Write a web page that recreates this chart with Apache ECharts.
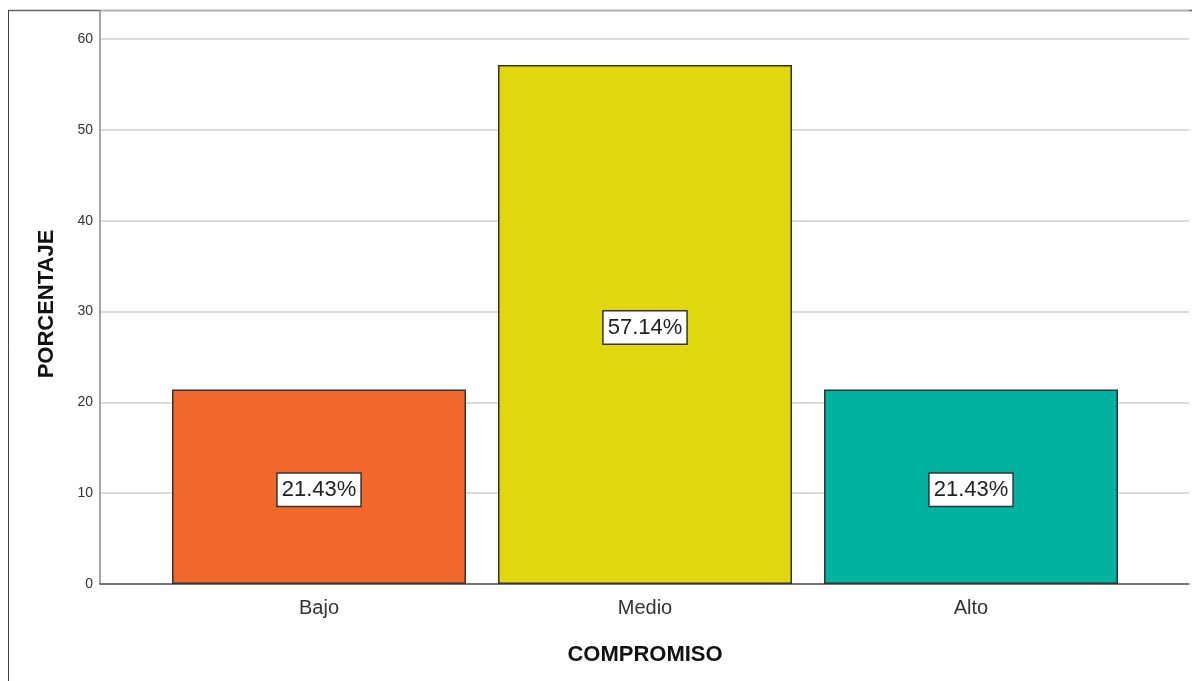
<!DOCTYPE html>
<html>
<head>
<meta charset="utf-8">
<script src="https://cdn.jsdelivr.net/npm/echarts@6/dist/echarts.min.js"></script>
<style>
  html, body { margin: 0; padding: 0; background: #fff; }
  #chart { width: 1192px; height: 681px; }
</style>
</head>
<body>
<div id="chart"></div>
<script>
// Distribution of COMPROMISO levels, as percentages
const categories = ['Bajo', 'Medio', 'Alto'];
const percentages = [21.43, 57.14, 21.43];
const barColors = ['#F2672A', '#E1D60F', '#00B3A0'];
const yTicks = [0, 10, 20, 30, 40, 50, 60];

const FONT = '"Liberation Sans", Arial, sans-serif';
const Y_MAX = 63.1;

const chart = echarts.init(document.getElementById('chart'), null, { renderer: 'canvas' });

const option = {
  animation: false,
  backgroundColor: '#ffffff',
  grid: [
    // frame grid: value axis, gridlines and baseline across the full width
    { left: 100, right: 3, top: 11, bottom: 97 },
    // bar grid: three equal bands centred under the frame
    { left: 156, right: 58, top: 11, bottom: 97 }
  ],
  xAxis: [
    {
      gridIndex: 0, type: 'category', data: [''],
      axisLine: { show: true, lineStyle: { color: '#555', width: 1.5 } },
      axisTick: { show: false }, axisLabel: { show: false }, splitLine: { show: false }
    },
    {
      gridIndex: 1, type: 'category', data: categories,
      axisLine: { show: false }, axisTick: { show: false },
      axisLabel: { fontFamily: FONT, fontSize: 20, color: '#333', margin: 14 }
    }
  ],
  yAxis: [
    {
      gridIndex: 0, type: 'value', min: yTicks[0], max: Y_MAX, interval: 10,
      axisLine: { show: true, lineStyle: { color: '#888', width: 1.5 } },
      axisTick: { show: false },
      axisLabel: {
        fontFamily: FONT, fontSize: 14, color: '#333', margin: 7,
        showMaxLabel: false,
        formatter: v => (yTicks.indexOf(v) >= 0 ? String(v) : '')
      },
      splitLine: { show: true, lineStyle: { color: '#cfcfcf', width: 1.5 } }
    },
    {
      gridIndex: 1, type: 'value', min: yTicks[0], max: Y_MAX, interval: 10,
      show: false
    }
  ],
  series: [
    {
      type: 'bar',
      xAxisIndex: 1, yAxisIndex: 1,
      barWidth: 294,
      data: percentages.map((v, i) => ({
        value: v,
        itemStyle: { color: barColors[i] }
      })),
      itemStyle: { borderColor: '#333', borderWidth: 1.5 },
      label: {
        show: true, position: 'inside', offset: [0, 3],
        formatter: p => p.value.toFixed(2) + '%',
        fontFamily: FONT, fontSize: 22, color: '#222',
        backgroundColor: '#fff', borderColor: '#333', borderWidth: 1.5,
        padding: [6, 4, 4, 4]
      }
    }
  ],
  graphic: [
    // outer frame: top and left edges
    { type: 'line', shape: { x1: 8, y1: 10.5, x2: 1192, y2: 10.5 }, style: { stroke: '#666', lineWidth: 1.5 } },
    { type: 'line', shape: { x1: 8.5, y1: 10, x2: 8.5, y2: 681 }, style: { stroke: '#444', lineWidth: 1 } },
    // axis titles
    {
      type: 'text', x: 645, y: 655,
      style: { text: 'COMPROMISO', font: 'bold 22px ' + FONT, fill: '#111', textAlign: 'center', textVerticalAlign: 'middle' }
    },
    {
      type: 'text', x: 47, y: 304, rotation: Math.PI / 2,
      style: { text: 'PORCENTAJE', font: 'bold 22px ' + FONT, fill: '#111', textAlign: 'center', textVerticalAlign: 'middle' }
    }
  ]
};

chart.setOption(option);
</script>
</body>
</html>
